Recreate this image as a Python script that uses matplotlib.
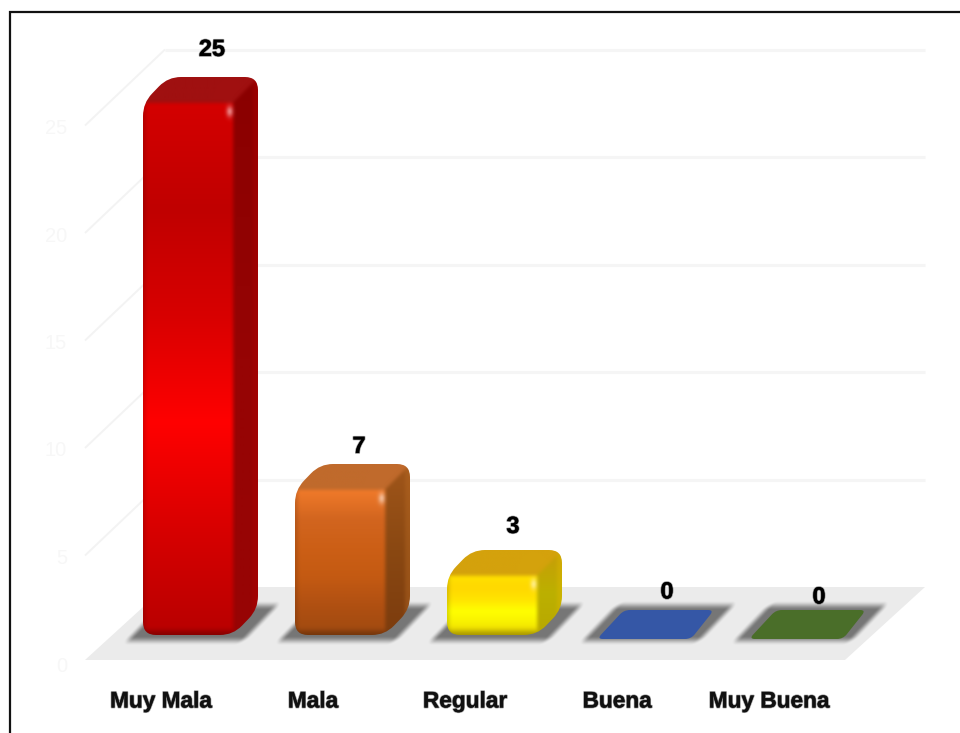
import numpy as np
import matplotlib
matplotlib.use('Agg')
import matplotlib.pyplot as plt
import matplotlib.patheffects as pe
from matplotlib.path import Path
from matplotlib.patches import PathPatch, Polygon
from matplotlib.transforms import Affine2D
from matplotlib.colors import to_rgb

# %% Data:
categories = ['Muy Mala', 'Mala', 'Regular', 'Buena', 'Muy Buena']
values = [25, 7, 3, 0, 0]
tick_values = [0, 5, 10, 15, 20, 25]

# %% Style:
W, H = 960, 733
X0, CAT_STEP = 188, 152   # px of first category, px between categories
Y0, UNIT = 638, 21.5      # px of value 0 on bar front, px per unit
HALF_BAR, INSET = 45, 3
DX, DY = 25, 26           # bar depth in px
TILE = ['#3557a6', '#4a6e29']
FACES = [
    dict(front=['#d40000', '#c00000', '#d80000', '#ff0000', '#d80000', '#b80000'],
         top='#a01010', side=['#8a0000', '#960404', '#980404'], edge='#b00000'),
    dict(front=['#f07a2a', '#d2651f', '#cc5f16', '#c45a12', '#b05012', '#a04a10'],
         top='#c06a2c', side=['#a0561a', '#8a4812', '#7c3c0e'], edge='#b86a24'),
    dict(front=['#ffe000', '#ffd800', '#ffe400', '#ffff00', '#f8f000', '#e8d000'],
         top='#d4a20c', side=['#c89c08', '#bcb000', '#b8a800'], edge='#e0b800'),
]
VALUE_SHIFT = [(24, -29), (19, -19), (21, -25), (23, -19), (23, -14)]
LABEL_SHIFT = -27

plt.rcParams['font.family'] = ['Liberation Sans', 'DejaVu Sans']

fig = plt.figure(figsize=(W/100, H/100), dpi=100, facecolor='white')
ax = fig.add_axes([0, 0, 1, 1])
ax.set_xlim(-X0/CAT_STEP, (W-X0)/CAT_STEP)
ax.set_ylim((Y0-H)/UNIT, Y0/UNIT)
ax.axis('off')
px = Affine2D().scale(1, -1).translate(0, H)  # image-like pixel coords


def to_px(i, v):
    x, y = ax.transData.transform((i, v))
    return x, H-y


def rounded_path(pts, r):
    verts, codes = [], []
    n = len(pts)
    for k in range(n):
        p = np.array(pts[k], float)
        a = np.array(pts[k-1], float)
        b = np.array(pts[(k+1) % n], float)
        ra = min(r, np.linalg.norm(a-p)/2)
        rb = min(r, np.linalg.norm(b-p)/2)
        p1 = p + (a-p)/np.linalg.norm(a-p)*ra
        p2 = p + (b-p)/np.linalg.norm(b-p)*rb
        verts += [p1, p, p2]
        codes += [Path.MOVETO if k == 0 else Path.LINETO, Path.CURVE3, Path.CURVE3]
    verts.append(verts[0])
    codes.append(Path.CLOSEPOLY)
    return Path(verts, codes)


def ramp(t, colors):
    rgb = np.array([to_rgb(c) for c in colors])
    pos = np.linspace(0, 1, len(colors))
    return np.stack([np.interp(t, pos, rgb[:, c]) for c in range(3)], axis=-1)


def draw_shadow(x0, x1):
    k = 0.95
    xs = np.arange(x0-40, x1+80)
    ys = np.arange(595, 655)
    xx, yy = np.meshgrid(xs, ys)
    u = xx - (640-yy)*k
    du = np.maximum(np.maximum((x0-10)-u, u-(x1+6)), 0)
    dv = np.maximum(np.maximum(610-yy, yy-636), 0)
    t = np.clip(1-np.hypot(du, dv)/10, 0, 1)
    alpha = 0.5*t*t*(3-2*t)
    img = np.zeros(xx.shape+(4,))
    img[..., 3] = alpha
    ax.imshow(img, extent=(xs[0], xs[-1], ys[-1], ys[0]), transform=px, aspect='auto',
              interpolation='bilinear', zorder=3)


def draw_bar(x0, x1, ytop, ybot, face):
    xs = np.arange(x0, x1+DX+1)
    ys = np.arange(ytop-DY, ybot+1)
    xx, yy = np.meshgrid(xs, ys, indexing='xy')
    xx = xx.astype(float)
    yy = yy.astype(float)
    tf = np.clip((yy-ytop)/(ybot-ytop), 0, 1)
    img = ramp(tf, face['front'])
    # darker rim on the front face, light band at its top
    bottom = np.clip((ybot-yy)/7, 0, 1)
    left = np.clip((xx-x0)/4, 0, 1)
    img = img*(0.72+0.28*bottom)[..., None]
    img = img*(0.85+0.15*left)[..., None]
    # side face
    side = (xx > x1) & ((ytop-yy)/DY <= (xx-x1)/DX)
    ts = np.clip((yy-ytop+DY)/(ybot-ytop+DY), 0, 1)
    img[side] = ramp(ts, face['side'])[side]
    # top face
    top = (yy < ytop) & ~side
    img[top] = np.array(to_rgb(face['top']))
    rim = side & (xx > x1+DX-5)
    img[rim] = 0.6*img[rim]+0.4*np.array(to_rgb(face['edge']))
    # highlight at the front corner
    spot = np.exp(-(((xx-x1+3)/2.5)**2+((yy-ytop-8)/5)**2))
    img = img+(1-img)*0.75*spot[..., None]
    # soften the face boundaries
    kernel = np.array([1, 2, 3, 4, 3, 2, 1])/16
    for ch in range(3):
        pad = np.pad(img[..., ch], 3, mode='edge')
        pad = np.apply_along_axis(lambda c: np.convolve(c, kernel, mode='same'), 0, pad)
        pad = np.apply_along_axis(lambda c: np.convolve(c, kernel, mode='same'), 1, pad)
        img[..., ch] = pad[3:-3, 3:-3]
    im = ax.imshow(img, extent=(xs[0], xs[-1], ys[-1], ys[0]), transform=px, aspect='auto',
                   interpolation='bilinear', zorder=4)
    outline = [(x0, ybot), (x0, ytop), (x0+DX, ytop-DY), (x1+DX, ytop-DY),
               (x1+DX, ybot-DY), (x1, ybot)]
    im.set_clip_path(rounded_path(outline, 13), px)


# %% Walls and floor:
for v in tick_values[1:]:
    y_back = to_px(0, v)[1]-51
    y_front = to_px(0, v)[1]+25
    ax.plot([165, 925], [y_back, y_back], color='#f5f5f5', lw=2.2,
            transform=px, zorder=1, solid_capstyle='butt')
    ax.plot([85, 165], [y_front, y_back], color='#f3f3f3', lw=1.4,
            transform=px, zorder=1, solid_capstyle='butt')
y_b = to_px(0, 0)[1]
ax.add_patch(Polygon([(85, y_b+22), (165, y_b-51), (925, y_b-51), (845, y_b+22)],
                     closed=True, fc='#ebebeb', ec='none', transform=px, zorder=2))
for v in tick_values:
    ax.text(67, to_px(0, v)[1]+28, str(v), color='#f7f7f7', fontsize=14.5, ha='right',
            va='center', transform=px, zorder=1)

# %% Bars:
soft = [pe.withStroke(linewidth=1.2, foreground='#00000066')]
for i, v in enumerate(values):
    xc, y_top = to_px(i, v)
    _, y_bot = to_px(i, 0)
    x0, x1 = xc-HALF_BAR, xc+HALF_BAR
    draw_shadow(x0, x1)
    if v > 0:
        draw_bar(int(x0), int(x1), int(y_top+INSET), int(y_bot-INSET), FACES[i])
    else:
        tile = [(x0-2, y_bot+1), (x0+25, y_bot-28), (x1+25, y_bot-28), (x1+2, y_bot+1)]
        ax.add_patch(PathPatch(rounded_path(tile, 6), fc=TILE[i-3], ec='none',
                               transform=px, zorder=4))
    back_y = to_px(i, v)[1]-(DY-INSET if v > 0 else 28)
    sx, sy = VALUE_SHIFT[i]
    ax.text(xc+sx, back_y+sy+1, str(v), fontsize=17, fontweight='bold', color='black',
            ha='center', va='center', transform=px, zorder=6, path_effects=soft)
    ax.text(xc+LABEL_SHIFT, 701, categories[i], fontsize=16.3, fontweight='bold', color='#111111',
            ha='center', va='center', transform=px, zorder=6, path_effects=soft)

# %% Border (only top and left are inside the crop):
ax.plot([9.5, 9.5, W], [H, 11.5, 11.5], color='#111111', lw=1.6, transform=px, zorder=7,
        solid_joinstyle='miter')

fig.savefig('out.png', dpi=100)
